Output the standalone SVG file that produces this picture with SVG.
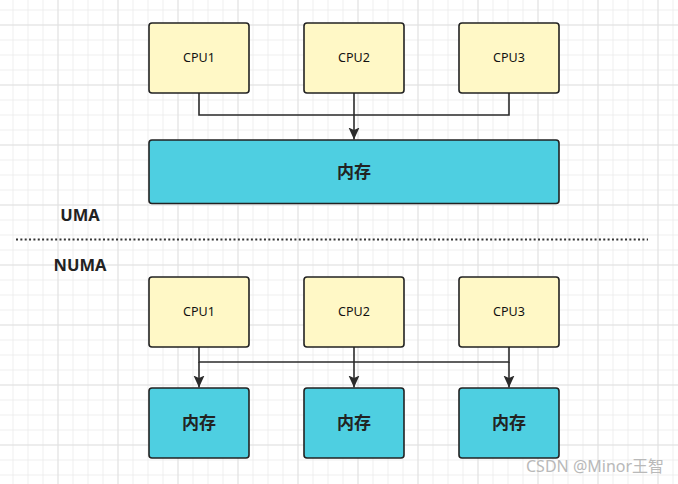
<svg xmlns="http://www.w3.org/2000/svg" width="678" height="484" viewBox="0 0 678 484">
  <defs>
    <pattern id="minor" x="12.5" y="9.5" width="15" height="15" patternUnits="userSpaceOnUse">
      <path d="M0 0.5 H15 M0.5 0 V15" fill="none" stroke="#eeeeee" stroke-width="1"/>
    </pattern>
    <pattern id="major" x="57.5" y="24.5" width="60" height="60" patternUnits="userSpaceOnUse">
      <path d="M0 0.5 H60 M0.5 0 V60" fill="none" stroke="#e2e2e2" stroke-width="1"/>
    </pattern>
    <marker id="arrow" viewBox="0 0 12 14" markerWidth="12" markerHeight="14" refX="12" refY="7" orient="auto" markerUnits="userSpaceOnUse">
      <path d="M0 1.5 L12 7 L0 12.5 L2.5 7 Z" fill="#2b2b2b"/>
    </marker>
    <style>
      .cpu rect { fill: #fff8c6; stroke: #222222; stroke-width: 1.6; }
      .mem rect { fill: #4ecfe1; stroke: #222222; stroke-width: 1.6; }
      .cpu text { font-family: "Noto Sans", "Noto Sans CJK SC", sans-serif; font-size: 12.5px; fill: #111111; text-anchor: middle; }
      .mem text { font-family: "Noto Sans CJK SC", sans-serif; font-size: 17px; font-weight: bold; fill: #222222; text-anchor: middle; }
      .conn path { fill: none; stroke: #2b2b2b; stroke-width: 1.6; }
      .label { font-family: "Noto Sans", "Open Sans", sans-serif; font-size: 16.5px; font-weight: bold; fill: #222222; text-anchor: middle; }
      .wm { font-family: "Noto Sans", "Noto Sans CJK SC", sans-serif; font-size: 16px; fill: #b9b9b9; }
    </style>
  </defs>
  <rect width="678" height="484" fill="#ffffff"/>
  <rect width="678" height="484" fill="url(#minor)"/>
  <rect width="678" height="484" fill="url(#major)"/>

  <g id="connectors" class="conn">
    <path d="M199 93 V115 H509 V93"/>
    <path d="M354 93 V139.5" marker-end="url(#arrow)"/>
    <path d="M199 347 V362 H509 V347"/>
    <path d="M199 362 V387.5" marker-end="url(#arrow)"/>
    <path d="M354 347 V387.5" marker-end="url(#arrow)"/>
    <path d="M509 362 V387.5" marker-end="url(#arrow)"/>
  </g>

  <g id="uma-cpu1" class="cpu"><rect x="149" y="23" width="100" height="70" rx="3"/><text x="199" y="62">CPU1</text></g>
  <g id="uma-cpu2" class="cpu"><rect x="304" y="23" width="100" height="70" rx="3"/><text x="354" y="62">CPU2</text></g>
  <g id="uma-cpu3" class="cpu"><rect x="459" y="23" width="100" height="70" rx="3"/><text x="509" y="62">CPU3</text></g>
  <g id="uma-mem" class="mem"><rect x="149" y="140" width="410" height="63.5" rx="3"/><text x="354" y="178">内存</text></g>

  <text id="uma-label" class="label" x="80" y="221">UMA</text>
  <line id="divider" x1="16" y1="239.5" x2="648" y2="239.5" stroke="#333333" stroke-width="2" stroke-dasharray="2 2.35"/>
  <text id="numa-label" class="label" x="80" y="271">NUMA</text>

  <g id="numa-cpu1" class="cpu"><rect x="149" y="277" width="100" height="70" rx="3"/><text x="199" y="316">CPU1</text></g>
  <g id="numa-cpu2" class="cpu"><rect x="304" y="277" width="100" height="70" rx="3"/><text x="354" y="316">CPU2</text></g>
  <g id="numa-cpu3" class="cpu"><rect x="459" y="277" width="100" height="70" rx="3"/><text x="509" y="316">CPU3</text></g>
  <g id="numa-mem1" class="mem"><rect x="149" y="388" width="100" height="70" rx="3"/><text x="199" y="429">内存</text></g>
  <g id="numa-mem2" class="mem"><rect x="304" y="388" width="100" height="70" rx="3"/><text x="354" y="429">内存</text></g>
  <g id="numa-mem3" class="mem"><rect x="459" y="388" width="100" height="70" rx="3"/><text x="509" y="429">内存</text></g>

  <text id="watermark" class="wm" x="526" y="472">CSDN @Minor王智</text>
</svg>
